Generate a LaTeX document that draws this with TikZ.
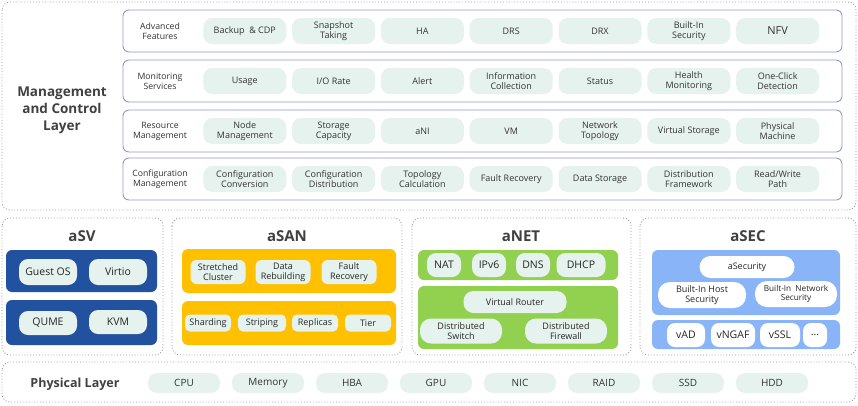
\documentclass[tikz,border=0pt]{standalone}
\usepackage{fontspec}
\setmainfont{Open Sans}
\begin{document}
\begin{tikzpicture}[x=1pt,y=-1pt,
  outer/.style={draw=gray!80,dotted,line width=0.9pt,rounded corners=8pt},
  row/.style={draw=blue!35!gray!60,line width=0.9pt,rounded corners=6pt,fill=white},
  pill/.style={fill=mint,rounded corners=9pt,minimum height=26pt,minimum width=83pt,inner sep=1pt,align=center,font=\fontsize{9}{10}\selectfont,text=black!80},
  wpill/.style={fill=white,rounded corners=9pt,inner sep=1pt,align=center,font=\fontsize{9}{10}\selectfont,text=black!85},
  lbl/.style={align=center,font=\fontsize{8.7}{10}\selectfont,text=black!80},
  ttl/.style={font=\bfseries\fontsize{15}{17}\selectfont,text=black!75},
  bar/.style={rounded corners=6pt}]
\definecolor{mint}{HTML}{E6F2EE}
\definecolor{asv}{HTML}{21519F}
\definecolor{asan}{HTML}{FFC000}
\definecolor{anet}{HTML}{92D050}
\definecolor{asec}{HTML}{8AB4F8}
\useasboundingbox (0,0) rectangle (858,405);
% management
\draw[outer] (2,2) rectangle (856,210);
\node[font=\bfseries\fontsize{13.5}{17}\selectfont,text=black!75,align=center] (mct) at (62,110) {Management\\and Control\\Layer};
\foreach \y/\l [count=\r] in {31/{Advanced\\Features},81/{Monitoring\\Services},131/{Resource\\Management},179/{Configuration\\Management}}{
  \draw[row] (123,\y-21) rectangle (842,\y+21);
  \node[lbl] (rl\r) at (160,\y) {\l};
}
\foreach \t [count=\i] in {Backup\ \ \& CDP,Snapshot\\Taking,HA,DRS,DRX,Built-In\\Security,\fontsize{11}{12}\selectfont NFV}
  \node[pill] (a\i) at (156+\i*89-0.2*\i,31) {\t};
\foreach \t [count=\i] in {Usage,I/O Rate,Alert,Information\\Collection,Status,Health\\Monitoring,One-Click\\Detection}
  \node[pill] (m\i) at (156+\i*89-0.2*\i,81) {\t};
\foreach \t [count=\i] in {Node\\Management,Storage\\Capacity,aNI,VM,Network\\Topology,Virtual Storage,Physical\\Machine}
  \node[pill] (r\i) at (156+\i*89-0.2*\i,131) {\t};
\foreach \t [count=\i] in {Configuration\\Conversion,Configuration\\Distribution,Topology\\Calculation,Fault Recovery,Data Storage,Distribution\\Framework,Read/Write\\Path}
  \node[pill] (c\i) at (156+\i*89-0.2*\i,179) {\t};
% aSV
\draw[outer] (2,218) rectangle (163,355);
\node[ttl] (tsv) at (82,236) {aSV};
\fill[asv,bar] (6,250) rectangle (157,292);
\fill[asv,bar] (6,300) rectangle (157,345);
\node[wpill,fill=mint,minimum width=58pt,minimum height=26pt,font=\fontsize{10.5}{12}\selectfont] (g1) at (48,272) {Guest OS};
\node[wpill,fill=mint,minimum width=58pt,minimum height=26pt,font=\fontsize{10.5}{12}\selectfont] (g2) at (118,272) {Virtio};
\node[wpill,fill=mint,minimum width=58pt,minimum height=24pt,font=\fontsize{10.5}{12}\selectfont] (g3) at (48,323) {QUME};
\node[wpill,fill=mint,minimum width=58pt,minimum height=24pt,font=\fontsize{10.5}{12}\selectfont] (g4) at (118,322) {KVM};
% aSAN
\draw[outer] (172,218) rectangle (402,355);
\node[ttl] (tsan) at (287,236) {aSAN};
\fill[asan,bar] (182,249) rectangle (396,293);
\fill[asan,bar] (182,301) rectangle (396,345);
\foreach \t/\x [count=\i] in {Stretched\\Cluster/218,Data\\Rebuilding/283,Fault\\Recovery/349}
  \node[wpill,fill=mint,minimum width=55pt,minimum height=24pt,rounded corners=6pt] (s\i) at (\x,272) {\t};
\foreach \t/\x/\w [count=\i] in {Sharding/208/46,Striping/262/48,Replicas/315/46,Tier/368/46}
  \node[wpill,fill=mint,minimum width=\w pt,minimum height=17pt,rounded corners=5pt] (p\i) at (\x,323) {\t};
% aNET
\draw[outer] (412,218) rectangle (631,355);
\node[ttl] (tnet) at (521,236) {aNET};
\fill[anet,bar] (418,250) rectangle (618,280);
\fill[anet,bar] (418,286) rectangle (618,349);
\foreach \t/\x/\w [count=\i] in {NAT/444/34,IPv6/489/34,DNS/533/34,DHCP/581/49}
  \node[wpill,fill=mint,minimum width=\w pt,minimum height=24pt,font=\fontsize{10.5}{12}\selectfont] (n\i) at (\x,265) {\t};
\node[wpill,fill=mint,minimum width=103pt,minimum height=22pt,rounded corners=10pt] (vr) at (515,302) {Virtual Router};
\node[wpill,fill=mint,minimum width=82pt,minimum height=25pt,rounded corners=11pt] (ds) at (461,331) {Distributed\\Switch};
\node[wpill,fill=mint,minimum width=82pt,minimum height=25pt,rounded corners=11pt] (df) at (566,331) {Distributed\\Firewall};
% aSEC
\draw[outer] (640,218) rectangle (856,355);
\node[ttl] (tsec) at (748,236) {aSEC};
\fill[asec,bar] (652,250) rectangle (840,315);
\fill[asec,bar] (652,320) rectangle (840,349);
\node[wpill,minimum width=95pt,minimum height=22pt,rounded corners=11pt] (as) at (747,267) {aSecurity};
\node[wpill,minimum width=88pt,minimum height=26pt,rounded corners=12pt] (bh) at (702,295) {Built-In Host\\Security};
\node[wpill,minimum width=82pt,minimum height=26pt,rounded corners=12pt,font=\fontsize{8.2}{9.5}\selectfont] (bn) at (796,294) {Built-In\ \ Network\\Security};
\foreach \t/\x/\w [count=\i] in {vAD/686/38,vNGAF/733/44,vSSL/780/40,{\ldots}/815/24}
  \node[wpill,minimum width=\w pt,minimum height=24pt,rounded corners=8pt,font=\fontsize{10.5}{12}\selectfont] (v\i) at (\x,335) {\t};
% physical
\draw[outer] (2,362) rectangle (856,402);
\node[font=\bfseries\fontsize{12.5}{14}\selectfont,text=black!75] (pl) at (75,384) {Physical Layer};
\foreach \t [count=\i] in {CPU,Memory,HBA,GPU,NIC,RAID,SSD,HDD}
  \node[pill,minimum width=72pt,minimum height=20pt,font=\fontsize{10}{11}\selectfont] (h\i) at (100+\i*84,383) {\t};
\end{tikzpicture}
\end{document}
